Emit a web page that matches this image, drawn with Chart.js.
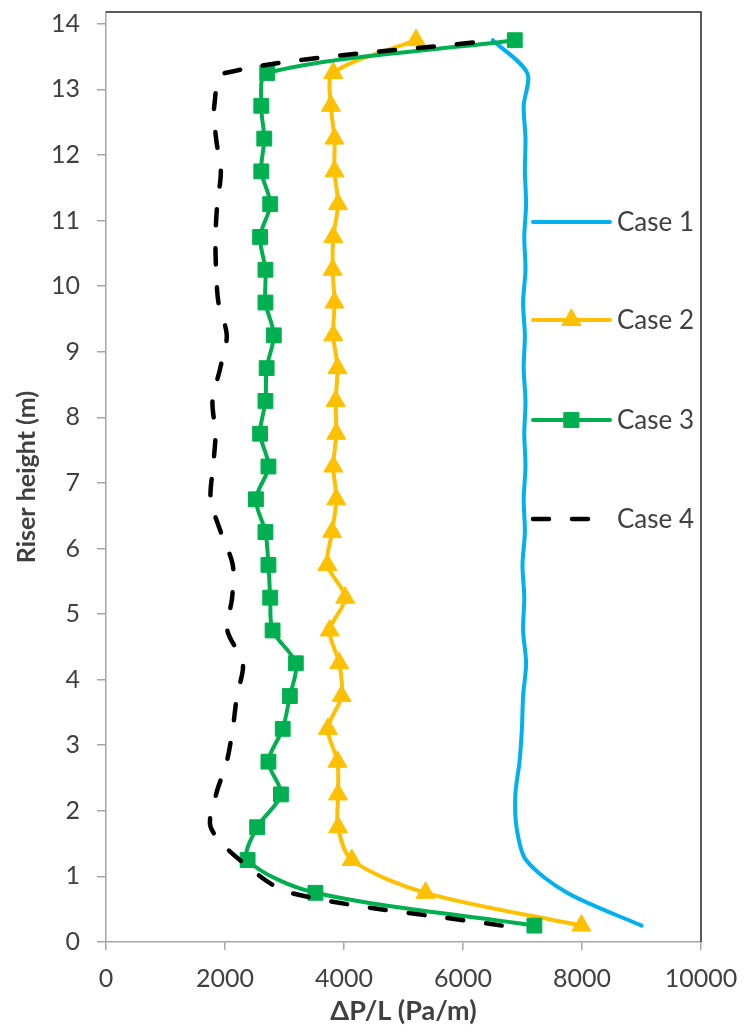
<!DOCTYPE html>
<html>
<head>
<meta charset="utf-8">
<script src="https://cdn.jsdelivr.net/npm/chart.js@4.4.1/dist/chart.umd.min.js"></script>
<style>
  html, body { margin: 0; padding: 0; background: #fff; }
  #wrap { width: 745px; height: 1032px; }
</style>
</head>
<body>
<div id="wrap"><canvas id="riserChart"></canvas></div>
<script>
// riser heights (m) where the pressure gradient was sampled
const heights = [0.25, 0.75, 1.25, 1.75, 2.25, 2.75, 3.25, 3.75, 4.25, 4.75,
  5.25, 5.75, 6.25, 6.75, 7.25, 7.75, 8.25, 8.75, 9.25, 9.75,
  10.25, 10.75, 11.25, 11.75, 12.25, 12.75, 13.25, 13.75];

// dP/L (Pa/m) for each case, bottom to top
const case1 = [9000, 7750, 7060, 6900, 6880, 6950, 6990, 7010, 7060, 7010,
  7030, 7000, 7040, 7020, 7050, 7030, 7050, 7020, 7040, 7010,
  7050, 7030, 7060, 7040, 7050, 7020, 7080, 6500];
const case2 = [7990, 5370, 4130, 3900, 3900, 3890, 3730, 3960, 3920, 3760,
  4020, 3720, 3800, 3870, 3820, 3870, 3860, 3890, 3820, 3840,
  3810, 3820, 3900, 3840, 3840, 3780, 3820, 5210];
const case3 = [7200, 3520, 2380, 2540, 2940, 2730, 2970, 3090, 3190, 2800,
  2760, 2730, 2680, 2520, 2730, 2590, 2680, 2700, 2820, 2680,
  2680, 2590, 2760, 2610, 2660, 2610, 2710, 6870];
const case4 = [6650, 3100, 2250, 1760, 1850, 2030, 2130, 2200, 2300, 2040,
  2120, 2130, 1930, 1760, 1800, 1840, 1790, 1920, 2030, 1890,
  1850, 1840, 1870, 1930, 1850, 1820, 2000, 6500];

const caseNames = ['Case 1', 'Case 2', 'Case 3', 'Case 4'];
const xTicks = [0, 2000, 4000, 6000, 8000, 10000];
const yTicks = [0, 1, 2, 3, 4, 5, 6, 7, 8, 9, 10, 11, 12, 13, 14];

const FONT = 'Lato, "Open Sans", sans-serif';
const TEXT = '#404040';
const AXIS = '#a6a6a6';

const toPoints = vals => vals.map((v, i) => ({ x: v, y: heights[i] }));

// legend drawn inside the plot, stacked down the right side
const insideLegend = {
  id: 'insideLegend',
  afterDatasetsDraw(chart) {
    const ctx = chart.ctx;
    const rows = [222, 320, 420, 519];
    const x0 = 533, x1 = 610;
    chart.data.datasets.forEach((ds, i) => {
      const y = rows[i];
      ctx.save();
      ctx.strokeStyle = ds.borderColor;
      ctx.lineWidth = ds.borderWidth;
      ctx.lineCap = 'round';
      ctx.setLineDash(ds.borderDash || []);
      ctx.beginPath();
      ctx.moveTo(x0, y);
      ctx.lineTo(x1, y);
      ctx.stroke();
      ctx.setLineDash([]);
      if (ds.pointRadius > 0) {
        ctx.fillStyle = ds.pointBackgroundColor;
        ctx.strokeStyle = ds.pointBorderColor;
        ctx.lineWidth = 1;
        Chart.helpers.drawPoint(ctx, { pointStyle: ds.pointStyle, radius: ds.pointRadius, rotation: 0, borderWidth: 1 }, (x0 + x1) / 2, y);
      }
      ctx.fillStyle = TEXT;
      ctx.font = '26px ' + FONT;
      ctx.textBaseline = 'middle';
      ctx.textAlign = 'left';
      ctx.fillText(ds.label, 617, y + 1);
      ctx.restore();
    });
  }
};

// dark frame on the top and right edges of the plot
const plotFrame = {
  id: 'plotFrame',
  beforeDatasetsDraw(chart) {
    const { ctx, chartArea: a } = chart;
    ctx.save();
    ctx.strokeStyle = '#262626';
    ctx.lineWidth = 1.5;
    ctx.beginPath();
    ctx.moveTo(a.left, a.top);
    ctx.lineTo(a.right, a.top);
    ctx.lineTo(a.right, a.bottom);
    ctx.stroke();
    ctx.restore();
  }
};

const lineBase = { showLine: true, tension: 0.3, borderCapStyle: 'round', borderJoinStyle: 'round', clip: false };

new Chart(document.getElementById('riserChart'), {
  type: 'scatter',
  data: {
    datasets: [
      { ...lineBase, label: caseNames[0], data: toPoints(case1), borderColor: '#00b0f0', borderWidth: 4,
        pointRadius: 0, pointHoverRadius: 0, order: 4 },
      { ...lineBase, label: caseNames[1], data: toPoints(case2), borderColor: '#ffc000', borderWidth: 4,
        pointStyle: 'triangle', pointRadius: 11, pointBackgroundColor: '#ffc000', pointBorderColor: '#ffc000', pointBorderWidth: 1, order: 3 },
      { ...lineBase, label: caseNames[2], data: toPoints(case3), borderColor: '#00b050', borderWidth: 4,
        pointStyle: 'rect', pointRadius: 10.5, pointBackgroundColor: '#00b050', pointBorderColor: '#00b050', pointBorderWidth: 1, order: 2 },
      { ...lineBase, label: caseNames[3], data: toPoints(case4), borderColor: '#000000', borderWidth: 4.5,
        borderDash: [16, 23], pointRadius: 0, pointHoverRadius: 0, order: 1 }
    ]
  },
  options: {
    responsive: true, maintainAspectRatio: false, animation: false,
    layout: { padding: { top: 10, right: 44, left: 0, bottom: 0 } },
    plugins: { legend: { display: false }, tooltip: { enabled: false } },
    scales: {
      x: {
        type: 'linear', min: 0, max: 10000,
        afterFit: s => { s.height = 90; s.paddingLeft = 0; s.paddingRight = 0; },
        afterBuildTicks: s => { s.ticks = xTicks.map(v => ({ value: v })); },
        grid: { drawOnChartArea: false, drawTicks: true, tickLength: 8, color: AXIS, lineWidth: 1.5 },
        border: { color: AXIS, width: 1.5 },
        ticks: { color: TEXT, padding: 14, maxRotation: 0, font: { family: FONT, size: 25 }, callback: v => String(v) },
        title: { display: true, text: 'ΔP/L (Pa/m)', color: TEXT, padding: { top: 0, bottom: 5 },
          font: { family: FONT, size: 27, weight: 'bold' } }
      },
      y: {
        type: 'linear', min: 0, max: 14.18,
        afterFit: s => { s.width = 106; s.paddingTop = 0; s.paddingBottom = 0; },
        afterBuildTicks: s => { s.ticks = yTicks.map(v => ({ value: v })); },
        grid: { drawOnChartArea: false, drawTicks: true, tickLength: 9, color: AXIS, lineWidth: 1.5 },
        border: { color: AXIS, width: 1.5 },
        ticks: { color: TEXT, padding: 17, font: { family: FONT, size: 25 }, callback: v => String(v) },
        title: { display: true, text: 'Riser height (m)', color: TEXT, padding: { top: 12, bottom: 0 },
          font: { family: FONT, size: 25, weight: 'bold' } }
      }
    }
  },
  plugins: [plotFrame, insideLegend]
});
</script>
</body>
</html>
